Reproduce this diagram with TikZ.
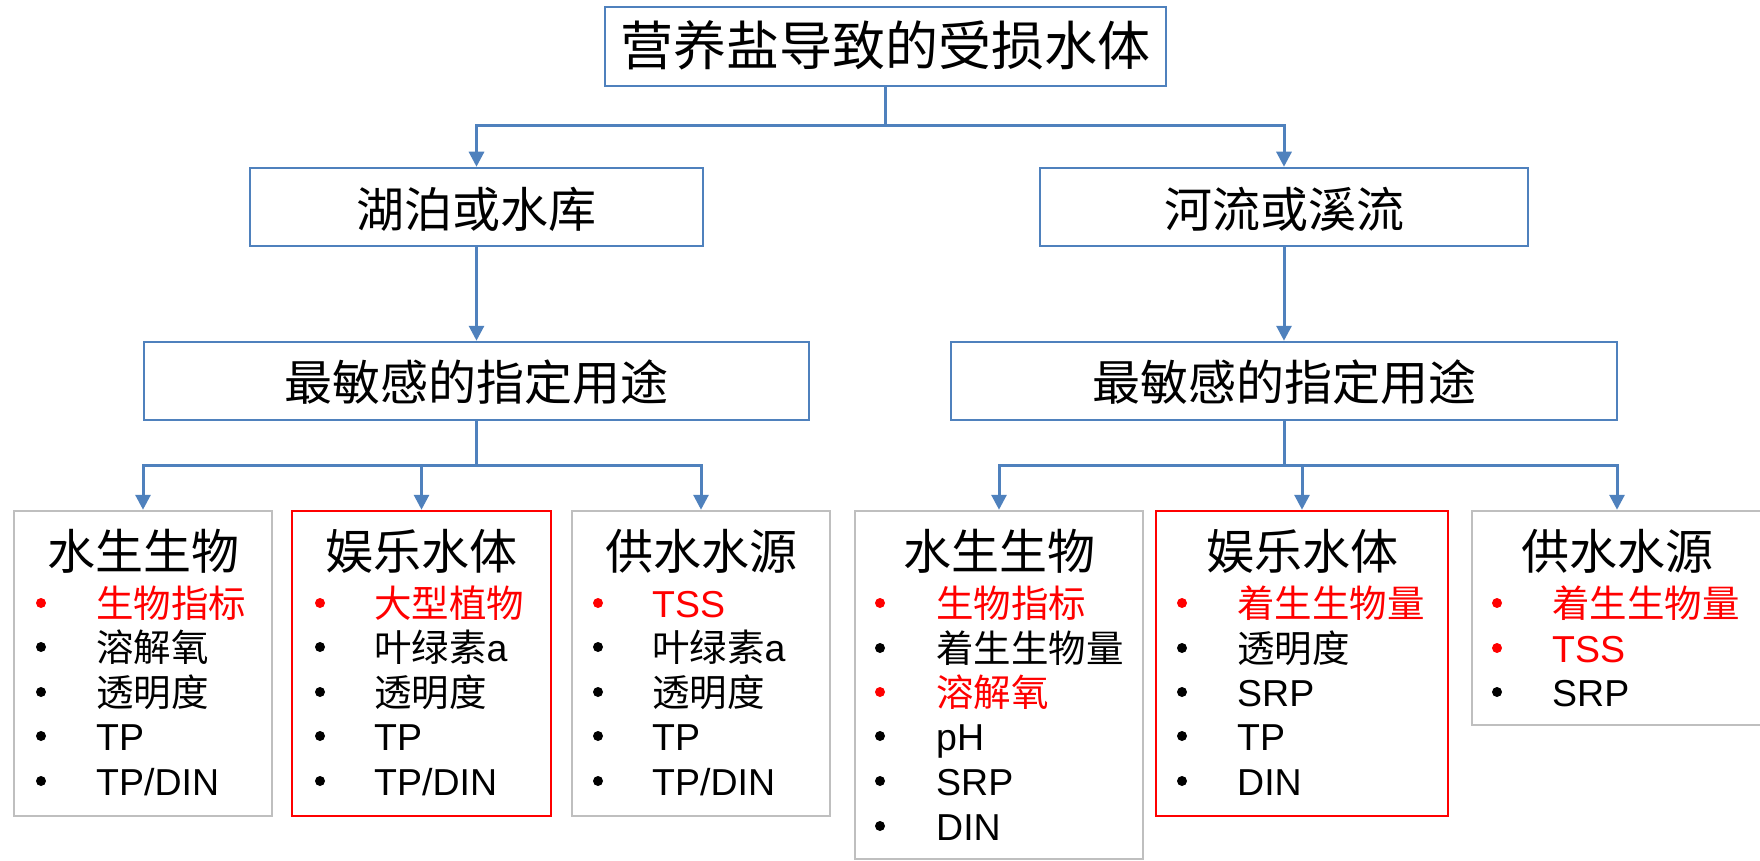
\documentclass[tikz,border=0pt]{standalone}
\usepackage{fontspec}
\setmainfont{Liberation Sans}
\newfontfamily\cjk{Noto Sans CJK SC}
\usetikzlibrary{arrows.meta}
\definecolor{ablue}{HTML}{4F81BD}
\definecolor{agray}{HTML}{BFBFBF}
\definecolor{ared}{HTML}{FF0000}
\tikzset{
  bluebox/.style={draw=ablue, line width=2.5pt, inner sep=0pt, rectangle},
  graybox/.style={draw=agray, line width=2.5pt, inner sep=0pt, rectangle},
  redbox/.style={draw=ared, line width=2.5pt, inner sep=0pt, rectangle},
  conn/.style={draw=ablue, line width=3pt, -{Triangle[length=15pt,width=15pt]}},
  ttl/.style={inner sep=0pt, anchor=base, font=\fontsize{53}{60}\selectfont\cjk},
  lvl/.style={inner sep=0pt, anchor=base, font=\fontsize{48}{56}\selectfont\cjk},
  hdr/.style={inner sep=0pt, anchor=base, font=\fontsize{48}{56}\selectfont\cjk},
  itemtxt/.style={inner sep=0pt, anchor=base west, font=\fontsize{37.5}{45}\selectfont},
  bul/.style={circle, inner sep=0pt, minimum size=10pt, draw=none},
}
\newcommand{\bitem}[6]{%
  \node[bul, fill=#5] (#1b) at (#2,#4) {};
  \node[itemtxt, text=#5] (#1) at (#3,#4+14) {#6};}
\begin{document}
\begin{tikzpicture}[x=1pt,y=-1pt]
\useasboundingbox (0,0) rectangle (1760,861);
\fill[white] (0,0) rectangle (1760,861);

% level boxes
\node[bluebox, minimum width=561pt, minimum height=79pt] (top) at (885.5,46.5) {};
\node[ttl] (toptxt) at (885.5,66) {营养盐导致的受损水体};
\node[bluebox, minimum width=453pt, minimum height=78pt] (lake) at (476.5,207) {};
\node[lvl] (laketxt) at (476.5,227) {湖泊或水库};
\node[bluebox, minimum width=488pt, minimum height=78pt] (river) at (1284,207) {};
\node[lvl] (rivertxt) at (1284,227) {河流或溪流};
\node[bluebox, minimum width=665pt, minimum height=78pt] (sensA) at (476.5,381) {};
\node[lvl] (sensAtxt) at (476.5,400) {最敏感的指定用途};
\node[bluebox, minimum width=666pt, minimum height=78pt] (sensB) at (1284,381) {};
\node[lvl] (sensBtxt) at (1284,400) {最敏感的指定用途};

% bottom boxes
\node[graybox, minimum width=258pt, minimum height=305pt] (b1) at (143,663.5) {};
\node[redbox,  minimum width=259pt, minimum height=305pt] (b2) at (421.5,663.5) {};
\node[graybox, minimum width=258pt, minimum height=305pt] (b3) at (701,663.5) {};
\node[graybox, minimum width=288pt, minimum height=348pt] (b4) at (999,685) {};
\node[redbox,  minimum width=292pt, minimum height=305pt] (b5) at (1302,663.5) {};
\node[graybox, minimum width=290pt, minimum height=214pt] (b6) at (1617,618) {};

% connectors
\coordinate (ya) at (0,126);
\coordinate (yb) at (0,465);
\draw[conn] (top.south) -- (top.south |- ya) -| (lake.north);
\draw[conn] (top.south) -- (top.south |- ya) -| (river.north);
\draw[conn] (lake.south) -- (sensA.north);
\draw[conn] (river.south) -- (sensB.north);
\draw[conn] (sensA.south) -- (sensA.south |- yb) -| (b1.north);
\draw[conn] (sensA.south) -- (sensA.south |- yb) -| (b2.north);
\draw[conn] (sensA.south) -- (sensA.south |- yb) -| (b3.north);
\draw[conn] (sensB.south) -- (sensB.south |- yb) -| (b4.north);
\draw[conn] (sensB.south) -- (sensB.south |- yb) -| (b5.north);
\draw[conn] (sensB.south) -- (sensB.south |- yb) -| (b6.north);

% box 1
\node[hdr] (h1) at (143,569) {水生生物};
\bitem{a1}{41}{96}{603}{ared}{\cjk 生物指标}
\bitem{a2}{41}{96}{647}{black}{\cjk 溶解氧}
\bitem{a3}{41}{96}{692}{black}{\cjk 透明度}
\bitem{a4}{41}{96}{736}{black}{TP}
\bitem{a5}{41}{96}{781}{black}{TP/DIN}

% box 2
\node[hdr] (h2) at (421.5,569) {娱乐水体};
\bitem{c1}{320}{374}{603}{ared}{\cjk 大型植物}
\bitem{c2}{320}{374}{647}{black}{{\cjk 叶绿素}a}
\bitem{c3}{320}{374}{692}{black}{\cjk 透明度}
\bitem{c4}{320}{374}{736}{black}{TP}
\bitem{c5}{320}{374}{781}{black}{TP/DIN}

% box 3
\node[hdr] (h3) at (701,569) {供水水源};
\bitem{d1}{598}{652}{603}{ared}{TSS}
\bitem{d2}{598}{652}{647}{black}{{\cjk 叶绿素}a}
\bitem{d3}{598}{652}{692}{black}{\cjk 透明度}
\bitem{d4}{598}{652}{736}{black}{TP}
\bitem{d5}{598}{652}{781}{black}{TP/DIN}

% box 4
\node[hdr] (h4) at (999,569) {水生生物};
\bitem{e1}{880}{936}{603}{ared}{\cjk 生物指标}
\bitem{e2}{880}{936}{648}{black}{\cjk 着生生物量}
\bitem{e3}{880}{936}{692}{ared}{\cjk 溶解氧}
\bitem{e4}{880}{936}{736}{black}{pH}
\bitem{e5}{880}{936}{781}{black}{SRP}
\bitem{e6}{880}{936}{826}{black}{DIN}

% box 5
\node[hdr] (h5) at (1302,569) {娱乐水体};
\bitem{f1}{1182}{1237}{603}{ared}{\cjk 着生生物量}
\bitem{f2}{1182}{1237}{648}{black}{\cjk 透明度}
\bitem{f3}{1182}{1237}{692}{black}{SRP}
\bitem{f4}{1182}{1237}{736}{black}{TP}
\bitem{f5}{1182}{1237}{781}{black}{DIN}

% box 6
\node[hdr] (h6) at (1617,569) {供水水源};
\bitem{g1}{1497}{1552}{603}{ared}{\cjk 着生生物量}
\bitem{g2}{1497}{1552}{648}{ared}{TSS}
\bitem{g3}{1497}{1552}{692}{black}{SRP}
\end{tikzpicture}
\end{document}
